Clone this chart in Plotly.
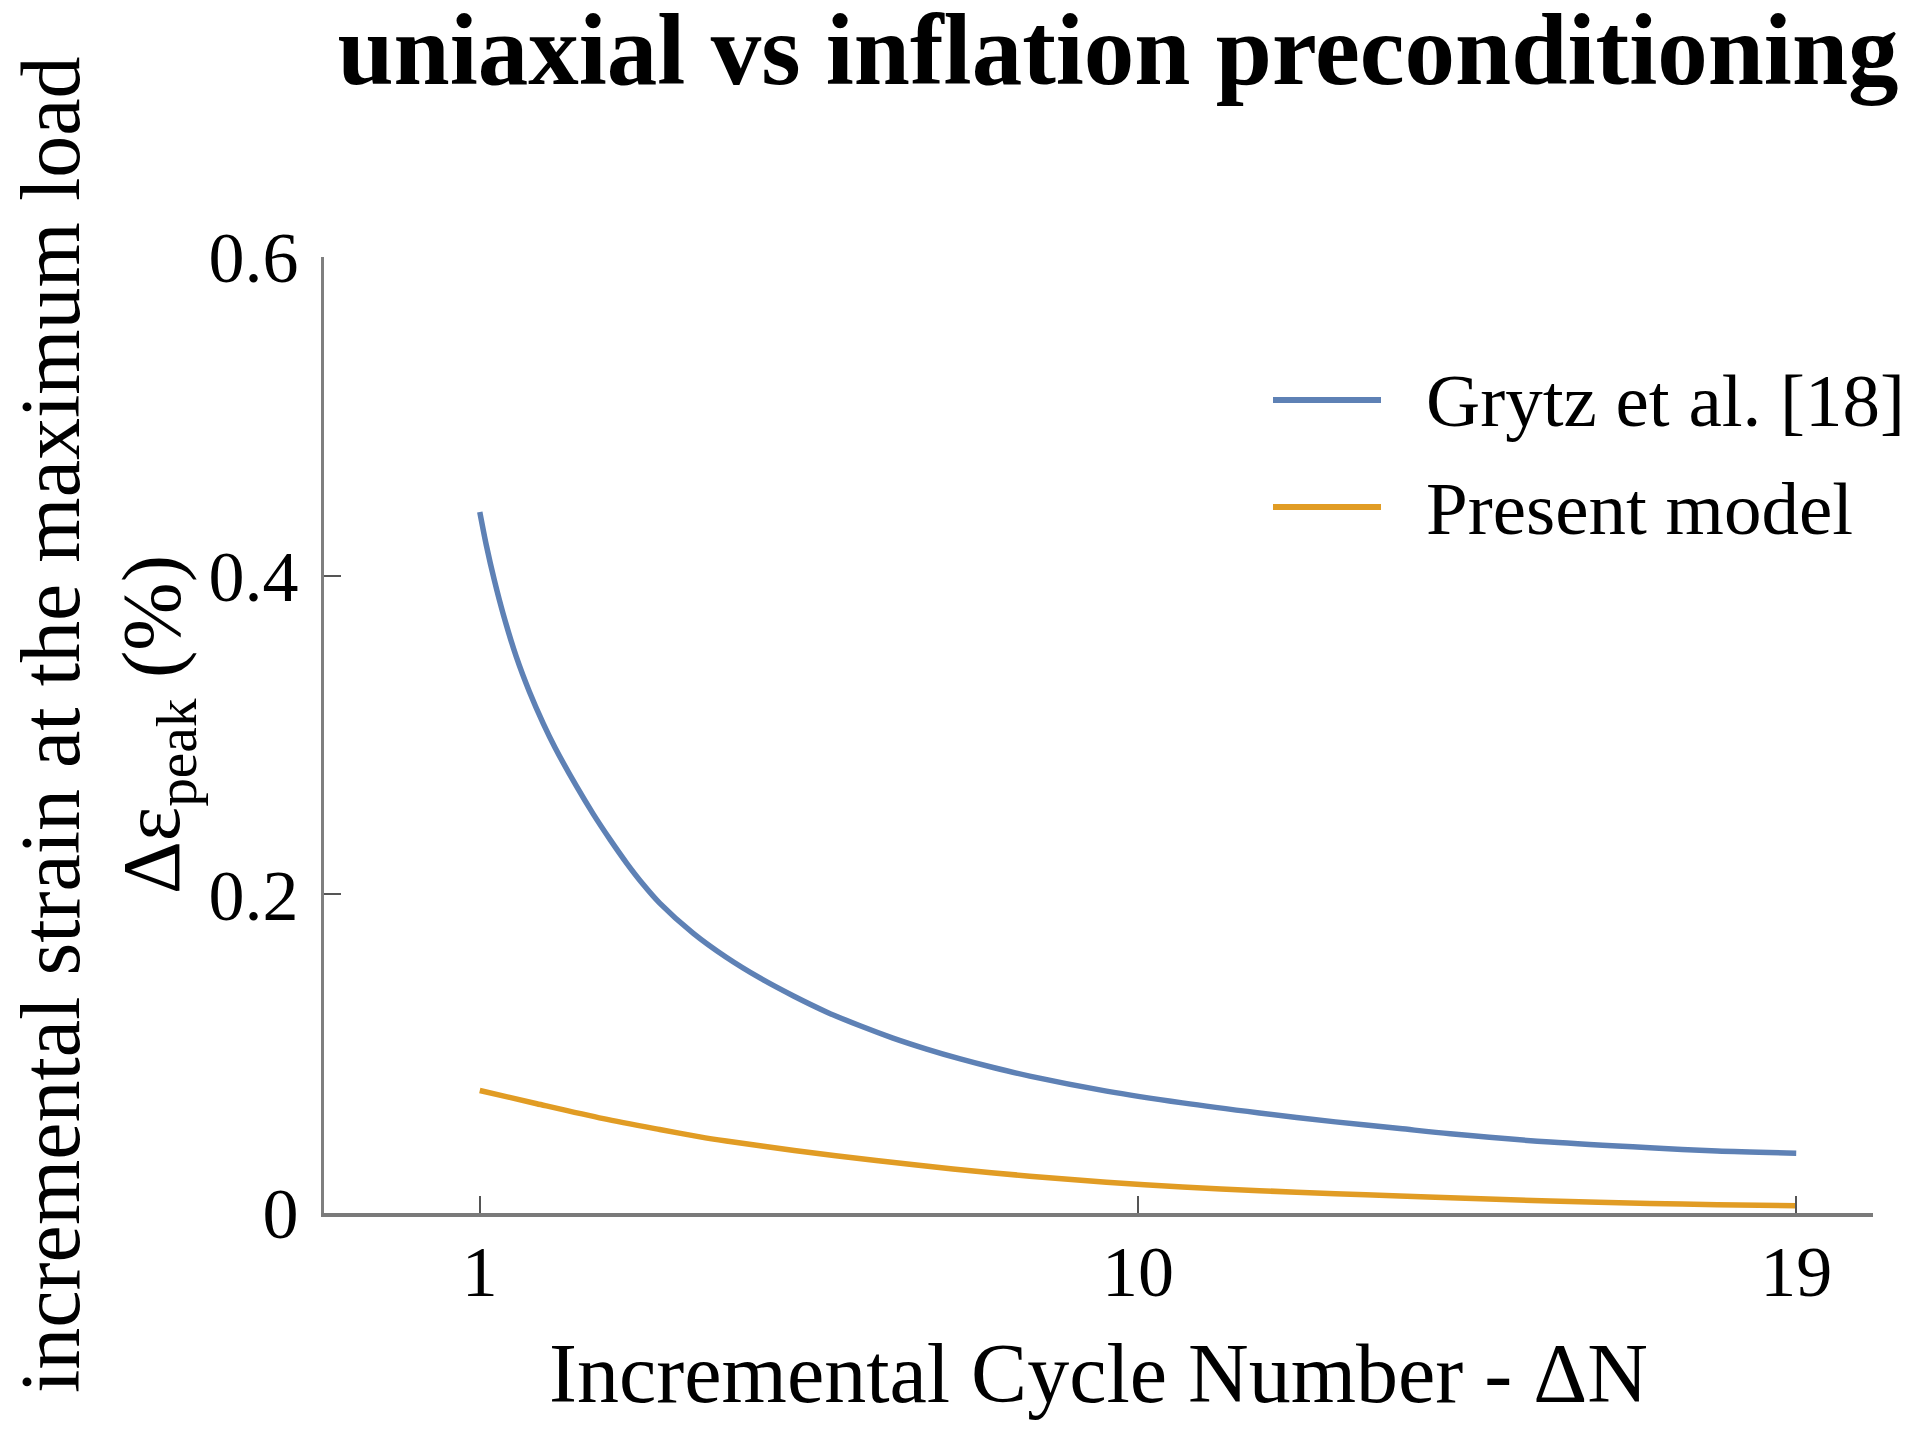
import plotly.graph_objects as go

# ---- data ----
series_names = ["Grytz et al. [18]", "Present model"]
series_colors = ["#5E81B5", "#E19C24"]

grytz_x = [1.0, 1.09, 1.2, 1.32, 1.5, 1.68, 1.87, 2.03, 2.32, 2.55, 2.78, 3.01,
           3.23, 3.46, 3.92, 4.37, 4.83, 5.29, 5.74, 6.2, 6.65, 7.11, 7.57, 8.02,
           8.52, 9.57, 10.61, 11.66, 12.7, 13.58, 14.27, 15.64, 17.0, 17.92, 19.0]
grytz_y = [0.440, 0.419, 0.397, 0.376, 0.349, 0.327, 0.307, 0.292, 0.268,
           0.2505, 0.2345, 0.2195, 0.2065, 0.1945, 0.1755, 0.1605, 0.1475, 0.1362,
           0.1262, 0.1175, 0.1098, 0.1029, 0.0967, 0.0913, 0.0859, 0.0765, 0.0691,
           0.0628, 0.0572, 0.0530, 0.0497, 0.0445, 0.0409, 0.0389, 0.0375]

present_x = [1.0, 1.78, 2.69, 3.46, 4.01, 4.37, 5.3, 6.42, 7.47, 8.52, 9.57, 10.61,
             11.66, 12.7, 13.58, 14.27, 15.64, 17.0, 17.92, 19.0]
present_y = [0.0769, 0.0686, 0.0592, 0.0524, 0.0478, 0.0452, 0.0392, 0.0330,
             0.0276, 0.0231, 0.0193, 0.0163, 0.0140, 0.0121, 0.0106, 0.0095,
             0.0075, 0.0060, 0.0052, 0.0046]

x_tickvals = [1, 10, 19]
x_ticktext = ["1", "10", "19"]
y_tickvals = [0, 0.2, 0.4, 0.6]
y_ticktext = ["0", "0.2", "0.4", "0.6"]

title_text = "uniaxial vs inflation preconditioning"
x_title = "Incremental Cycle Number - ΔN"
y_title_outer = "incremental strain at the maximum load"
y_title_inner = "Δε<sub>peak</sub> (%)"

FONT = "Liberation Serif, Times New Roman, serif"

# ---- figure geometry (page has an 8px body margin) ----
OFF = 8
W, H = 1920 - 2 * OFF, 1431 - 2 * OFF
L = 324 - OFF
T = 257 - OFF
R = W - (1873 - OFF)
B = H - (1213 - OFF)
pw, ph = W - L - R, H - T - B


def px_x(p):
    return (p - OFF - L) / pw


def px_y(p):
    return (H - B - (p - OFF)) / ph


fig = go.Figure()
for xs, ys, name, col in [(grytz_x, grytz_y, series_names[0], series_colors[0]),
                          (present_x, present_y, series_names[1], series_colors[1])]:
    fig.add_trace(go.Scatter(x=xs, y=ys, mode="lines", name=name,
                             line=dict(color=col, width=5.5, shape="spline", smoothing=0.8),
                             showlegend=False))

# legend with long line keys like the reference
leg_rows = [400, 507]
for name, col, row in zip(series_names, series_colors, leg_rows):
    fig.add_shape(type="line", xref="paper", yref="paper",
                  x0=px_x(1273), x1=px_x(1381), y0=px_y(row), y1=px_y(row),
                  line=dict(color=col, width=6))
    fig.add_annotation(xref="paper", yref="paper", x=px_x(1424), y=px_y(row + 1),
                       text=name, showarrow=False, xanchor="left", yanchor="middle",
                       font=dict(family=FONT, size=75, color="black"))

# y-axis title (two lines)
fig.add_annotation(xref="paper", yref="paper", x=px_x(50), y=px_y(725),
                   text=y_title_outer, showarrow=False, textangle=-90,
                   xanchor="center", yanchor="middle",
                   font=dict(family=FONT, size=84, color="black"))
fig.add_annotation(xref="paper", yref="paper", x=px_x(157), y=px_y(725),
                   text=y_title_inner, showarrow=False, textangle=-90,
                   xanchor="center", yanchor="middle",
                   font=dict(family=FONT, size=82, color="black"))

fig.update_layout(
    width=W, height=H,
    margin=dict(l=L, r=R, t=T, b=B, pad=0),
    paper_bgcolor="white", plot_bgcolor="white",
    font=dict(family=FONT, color="black"),
    title=dict(text="<b>" + title_text + "</b>", x=(1118 - OFF) / W, xref="container",
               xanchor="center", y=1 - 41 / H, yref="container", yanchor="middle",
               font=dict(family=FONT, size=101, color="black")),
    xaxis=dict(range=[-1.13, 20.05], tickvals=x_tickvals, ticktext=x_ticktext,
               ticks="inside", ticklen=17, tickwidth=2, tickcolor="#555555",
               showline=True, linecolor="#7a7a7a", linewidth=3.5,
               showgrid=False, zeroline=False,
               tickfont=dict(family=FONT, size=72, color="black"),
               ticklabelstandoff=-7,
               title=dict(text=x_title, standoff=33,
                          font=dict(family=FONT, size=84, color="black"))),
    yaxis=dict(range=[0, 0.6], tickvals=y_tickvals, ticktext=y_ticktext,
               ticks="inside", ticklen=17, tickwidth=2, tickcolor="#555555",
               showline=True, linecolor="#7f7f7f", linewidth=3,
               showgrid=False, zeroline=False,
               tickfont=dict(family=FONT, size=72, color="black"),
               ticklabelstandoff=8),
)

fig.write_html("out.html")
